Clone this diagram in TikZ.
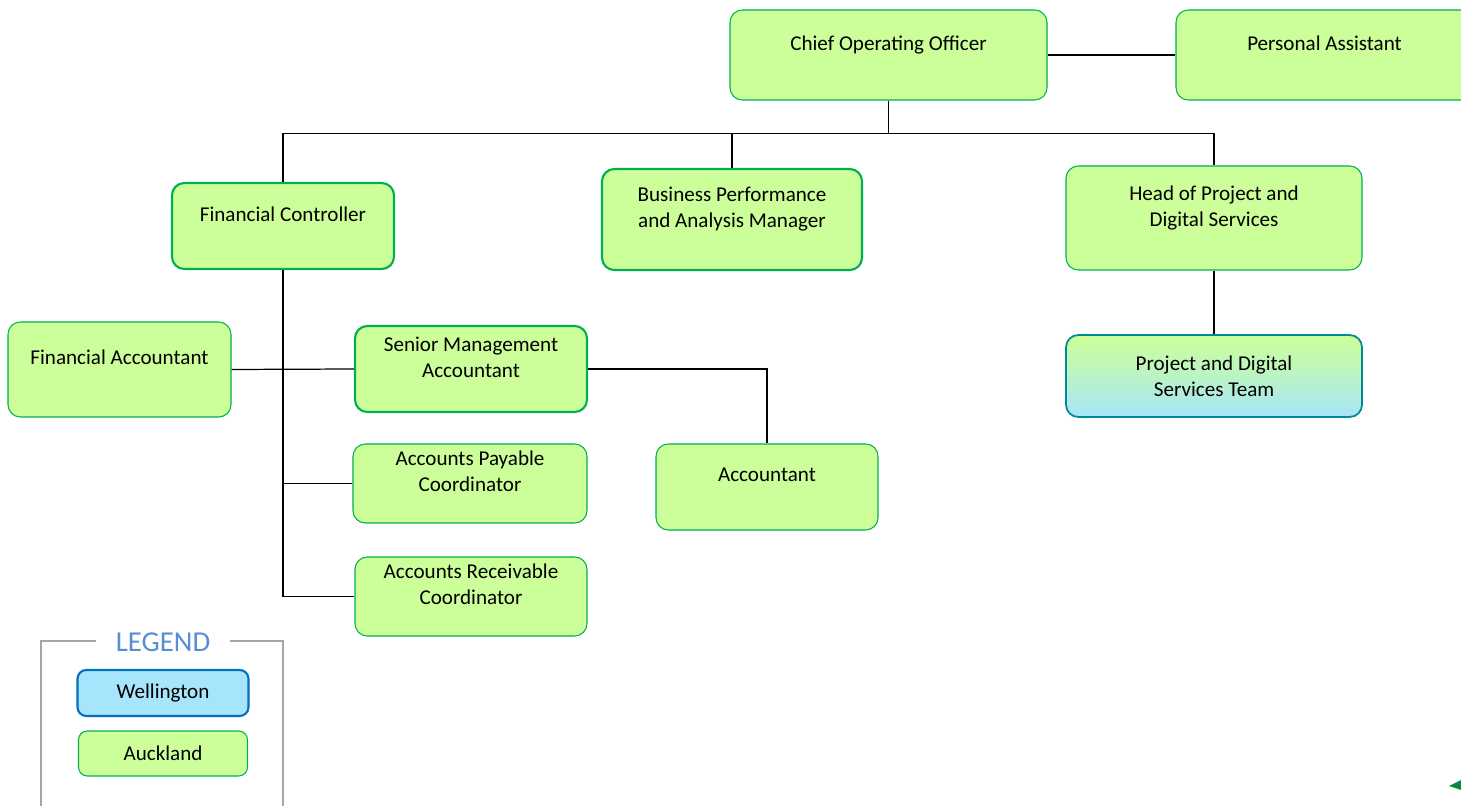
\documentclass[tikz,border=0pt]{standalone}
\usepackage{fontspec}
\setmainfont{Carlito}
\usepackage{tikz}
\usetikzlibrary{positioning}
\definecolor{aucklandfill}{HTML}{CCFF99}
\definecolor{aucklandline}{HTML}{00B050}
\definecolor{wellingtonfill}{HTML}{A6E5FB}
\definecolor{wellingtonline}{HTML}{0070C0}
\definecolor{legendblue}{HTML}{558ED5}
\definecolor{legendgray}{HTML}{A6A6A6}
\tikzstyle{box} = [rectangle, rounded corners=7pt, draw=aucklandline, fill=aucklandfill, align=center, line width=0.6pt, font=\fontsize{12}{14.7}\selectfont]
\tikzstyle{role} = [box, text depth=13.7pt]
\tikzstyle{rolebold} = [role, line width=1.2pt]
\tikzstyle{team} = [box, top color=aucklandfill, bottom color=wellingtonfill, middle color=wellingtonfill!45!aucklandfill, draw=wellingtonline!60!aucklandline, line width=1pt]
\tikzstyle{keywell} = [box, rounded corners=5pt, fill=wellingtonfill, draw=wellingtonline, line width=1.2pt]
\tikzstyle{keyauck} = [box, rounded corners=5pt]
\tikzstyle{link} = [line width=0.7pt]

\begin{document}
\begin{tikzpicture}[node distance=2cm]
\useasboundingbox (0,0) rectangle (29.22,-16.12);
% Direzione
\node (coo) [role, minimum width=6.34cm, minimum height=1.8cm] at (17.77,-1.10) {Chief Operating Officer};
\node (pa) [role, right of=coo, xshift=6.72cm, minimum width=5.94cm, minimum height=1.8cm] {Personal Assistant};
\node (fc) [rolebold, below of=coo, xshift=-12.11cm, yshift=-1.42cm, minimum width=4.44cm, minimum height=1.72cm] {Financial Controller};
\node (bpam) [rolebold, below of=coo, xshift=-3.13cm, yshift=-1.29cm, minimum width=5.2cm, minimum height=2.02cm] {Business Performance\\and Analysis Manager};
\node (head) [role, below of=coo, xshift=6.51cm, yshift=-1.26cm, minimum width=5.92cm, minimum height=2.08cm] {Head of Project and\\Digital Services};
\node (team) [team, below of=head, yshift=-1.16cm, minimum width=5.92cm, minimum height=1.64cm] {Project and Digital\\Services Team};
% Area finanza
\node (fa) [role, below of=fc, xshift=-3.27cm, yshift=-0.87cm, minimum width=4.46cm, minimum height=1.9cm] {Financial Accountant};
\node (sma) [rolebold, below of=fc, xshift=3.76cm, yshift=-0.86cm, minimum width=4.64cm, minimum height=1.72cm] {Senior Management\\Accountant};
\node (apc) [role, below of=sma, xshift=-0.02cm, yshift=-0.29cm, minimum width=4.68cm, minimum height=1.58cm] {Accounts Payable\\Coordinator};
\node (arc) [role, below of=apc, xshift=0.02cm, yshift=-0.26cm, minimum width=4.64cm, minimum height=1.58cm] {Accounts Receivable\\Coordinator};
\node (acct) [role, right of=apc, xshift=3.94cm, yshift=-0.07cm, minimum width=4.44cm, minimum height=1.72cm] {Accountant};

% Collegamenti
\coordinate (bus) at ([yshift=-0.66cm]coo.south);
\draw [link, line width=1.2pt] (coo) -- (pa);
\draw [link] (coo.south) -- (bus);
\draw [link] (fc.north) |- (bus) -| (head.north);
\draw [link] (bpam.north) -- (bpam.north |- bus);
\draw [link] (head.south) -- (team.north);
\draw [link, line width=1pt] (fc.south) |- (arc.west);
\draw [link] (fa.east) -- (sma.west);
\draw [link] (apc.west) -- (apc.west -| fc.south);
\draw [link] (sma.east) -| (acct.north);

% Legenda
\draw [legendgray, line width=0.8pt] (0.82,-16.3) |- (5.66,-12.82) -- (5.66,-16.3);
\node (legendtitle) [fill=white, minimum width=2.68cm, text=legendblue, font=\fontsize{16.4}{19}\selectfont] at (3.26,-12.84) {LEGEND};
\node (legendwell) [keywell, below of=legendtitle, yshift=0.98cm, minimum width=3.42cm, minimum height=0.92cm] {Wellington};
\node (legendauck) [keyauck, below of=legendwell, yshift=0.79cm, minimum width=3.38cm, minimum height=0.9cm] {Auckland};

% Frammento in basso a destra
\fill [aucklandline!80!black] (28.98,-15.72) -- (29.22,-15.60) -- (29.22,-15.80) -- cycle;
\end{tikzpicture}
\end{document}
